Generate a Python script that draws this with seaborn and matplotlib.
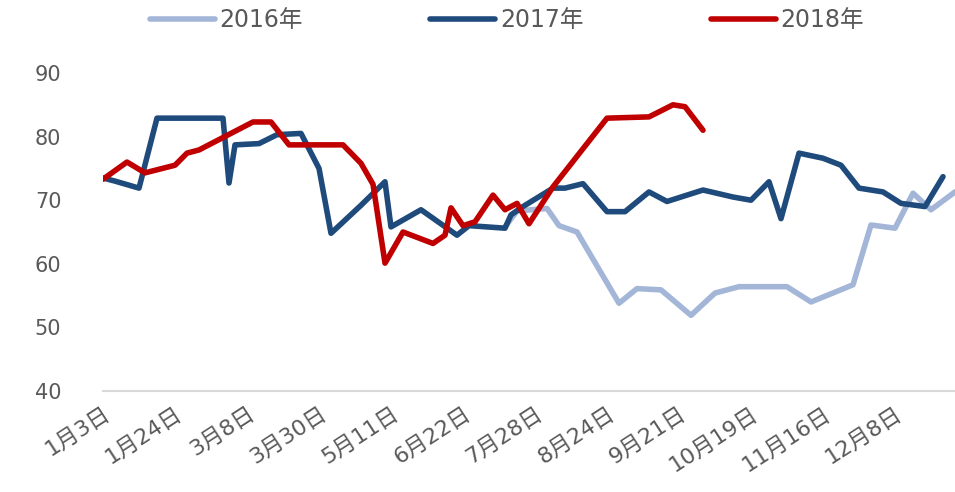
import seaborn as sns
import matplotlib.pyplot as plt
import pandas as pd

# category axis: one step = one record, a label every 12 records
tick_labels = ["1月3日", "1月24日", "3月8日", "3月30日", "5月11日", "6月22日",
               "7月28日", "8月24日", "9月21日", "10月19日", "11月16日", "12月8日"]
label_every = 12
last_idx = 142

x_2016 = [67, 69, 74, 76, 79, 86, 89, 93, 98, 102, 106, 114, 118, 125, 128, 132, 135, 138, 142]
y_2016 = [65.8, 68.3, 68.7, 66.0, 65.0, 53.8, 56.1, 55.9, 51.9, 55.4, 56.4, 56.4, 54.0, 56.7,
          66.1, 65.6, 71.1, 68.5, 71.3]

x_2017 = [0, 2, 6, 9, 20, 21, 22, 26, 29, 33, 36, 38, 43, 47, 48, 53, 59, 61, 67, 68,
          70, 75, 77, 80, 84, 87, 91, 94, 100, 105, 108, 111, 113, 116, 120, 123, 126, 130,
          133, 137, 140]
y_2017 = [73.5, 73.0, 71.9, 82.9, 82.9, 72.7, 78.7, 78.9, 80.3, 80.5, 75.0, 64.8, 69.2, 72.9,
          65.8, 68.5, 64.5, 66.0, 65.6, 67.7, 69.0, 71.9, 71.9, 72.6, 68.2, 68.2, 71.3, 69.8,
          71.6, 70.5, 70.0, 72.9, 67.1, 77.4, 76.6, 75.5, 71.9, 71.3, 69.5, 69.0, 73.7]

x_2018 = [0, 4, 7, 12, 14, 16, 25, 28, 31, 40, 43, 45, 47, 50, 55, 57, 58, 60, 62, 65,
          67, 69, 71, 75, 84, 91, 95, 97, 100]
y_2018 = [73.3, 76.0, 74.3, 75.5, 77.4, 77.9, 82.3, 82.3, 78.7, 78.7, 75.8, 72.5, 60.1, 65.0,
          63.2, 64.5, 68.8, 66.0, 66.6, 70.8, 68.5, 69.5, 66.3, 72.1, 82.9, 83.1, 85.0, 84.7, 81.0]

df = pd.concat([
    pd.DataFrame({"idx": x_2016, "value": y_2016, "year": "2016年"}),
    pd.DataFrame({"idx": x_2017, "value": y_2017, "year": "2017年"}),
    pd.DataFrame({"idx": x_2018, "value": y_2018, "year": "2018年"}),
])

sns.set_style("white")
plt.rcParams["font.family"] = ["DejaVu Sans", "Noto Sans CJK SC"]

colors = {"2016年": "#A3B6D8", "2017年": "#1F4A7C", "2018年": "#C00000"}
grey = "#595959"

fig = plt.figure(figsize=(9.55, 4.92), dpi=100)
ax = fig.add_axes([103 / 955, 101 / 492, 852 / 955, 318 / 492])

sns.lineplot(data=df, x="idx", y="value", hue="year", palette=colors,
             hue_order=["2016年", "2017年", "2018年"], estimator=None,
             linewidth=4, ax=ax)

ax.set_xlim(0, last_idx)
ax.set_ylim(40, 90)
ax.set_yticks(range(40, 91, 10))
ax.set_xticks(range(0, label_every * len(tick_labels), label_every))
ax.set_xticklabels(tick_labels, rotation=33, ha="right", va="top",
                   rotation_mode="anchor")
ax.tick_params(axis="x", length=0, pad=9, labelsize=16, labelcolor=grey)
ax.tick_params(axis="y", length=0, pad=30, labelsize=15, labelcolor=grey)
ax.set_xlabel("")
ax.set_ylabel("")

for side in ["top", "right", "left"]:
    ax.spines[side].set_visible(False)
ax.spines["bottom"].set_color("#D9D9D9")
ax.spines["bottom"].set_linewidth(1.5)

handles, labels = ax.get_legend_handles_labels()
ax.get_legend().remove()
leg = fig.legend(handles, labels, loc="center", bbox_to_anchor=(507 / 955, 1 - 20 / 492),
                 ncol=3, frameon=False, fontsize=17, handlelength=2.75,
                 handletextpad=0.2, columnspacing=5.4)
for t in leg.get_texts():
    t.set_color(grey)
for h in leg.get_lines():
    h.set_linewidth(4)

fig.savefig("out.png", dpi=100)
